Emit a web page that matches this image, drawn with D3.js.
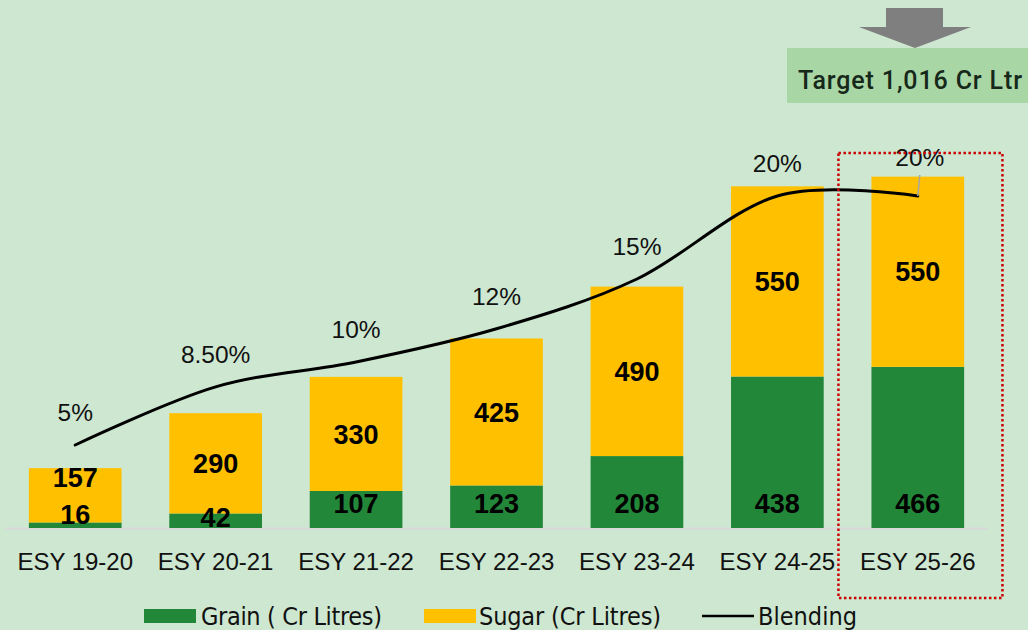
<!DOCTYPE html>
<html><head><meta charset="utf-8">
<script src="https://cdn.jsdelivr.net/npm/d3@7"></script>
<style>body{margin:0;background:#cde7d0} svg{display:block}</style>
</head><body><svg id="c" width="1028" height="630"></svg>
<script>
const categories = ["ESY 19-20","ESY 20-21","ESY 21-22","ESY 22-23","ESY 23-24","ESY 24-25","ESY 25-26"];
const grain = [16,42,107,123,208,438,466];
const sugar = [157,290,330,425,490,550,550];
const blending = [5,8.5,10,12,15,20,20];
const blendingLabels = ["5%","8.50%","10%","12%","15%","20%","20%"];
const seriesNames = ["Grain ( Cr Litres)","Sugar (Cr Litres)","Blending"];
const targetText = "Target 1,016 Cr Ltr";

(function(){
const W = 1028, H = 630;
const base = 528, plotTop = 113, left = 5, right = 988;
const cGrain = "#23873a", cSugar = "#ffc000", bg = "#cde7d0";
const svg = d3.select("#c");
svg.append("rect").attr("width", W).attr("height", H).attr("fill", bg);

const x = d3.scaleBand().domain(categories).range([left, right]).paddingInner(0.34).paddingOuter(0.17);
const y = d3.scaleLinear().domain([0, 1200]).range([base, plotTop]);
const yP = d3.scaleLinear().domain([0, 25]).range([base, plotTop]);

const rows = categories.map((c, i) => ({cat: c, grain: grain[i], sugar: sugar[i]}));
const stack = d3.stack().keys(["grain", "sugar"])(rows);
const colors = {grain: cGrain, sugar: cSugar};

// axis
const ax = svg.append("g").attr("transform", `translate(0,${base})`)
  .call(d3.axisBottom(x).tickSize(0).tickPadding(25));
ax.select(".domain").attr("stroke", "#d9d9d9").attr("stroke-width", 2);
ax.selectAll("text").attr("font-family", "Liberation Sans, Arial, sans-serif")
  .attr("font-size", 24).attr("fill", "#111");

// bars
stack.forEach(s => {
  svg.append("g").selectAll("rect").data(s).join("rect")
    .attr("x", d => x(d.data.cat)).attr("width", x.bandwidth())
    .attr("y", d => y(d[1])).attr("height", d => y(d[0]) - y(d[1]))
    .attr("fill", colors[s.key]);
});

// bar labels
const lblFont = "Liberation Sans, Arial, sans-serif";
stack.forEach(s => {
  svg.append("g").selectAll("text").data(s).join("text")
    .attr("x", d => x(d.data.cat) + x.bandwidth() / 2)
    .attr("y", d => {
      const h = y(d[0]) - y(d[1]);
      if (s.key === "grain") return h < 10 ? y(d[0]) - 14 : (h < 20 ? y(d[0]) - 11 : y(d[0]) - 25);
      return h < 60 ? y(d[1]) + 9 : (y(d[0]) + y(d[1])) / 2;
    })
    .attr("dy", "0.36em").attr("text-anchor", "middle")
    .attr("font-family", lblFont).attr("font-weight", "bold").attr("font-size", 27)
    .attr("fill", "#000").text(d => d.data[s.key]);
});

// blending line
const pts = categories.map((c, i) => [x(c) + x.bandwidth() / 2, yP(blending[i])]);
svg.append("path").attr("d", d3.line().curve(d3.curveCardinal.tension(0))(pts))
  .attr("fill", "none").attr("stroke", "#000").attr("stroke-width", 3).attr("stroke-linecap", "round");

const last = pts.length - 1;
const lblOff = i => (i === last ? 39 : 33);
svg.append("line").attr("x1", pts[last][0]).attr("y1", pts[last][1])
  .attr("x2", pts[last][0] + 2).attr("y2", pts[last][1] - 21)
  .attr("stroke", "#a6a6a6").attr("stroke-width", 1.5);

svg.append("g").selectAll("text").data(pts).join("text")
  .attr("x", (d, i) => d[0] + (i === last ? 2 : 0)).attr("y", (d, i) => d[1] - lblOff(i))
  .attr("dy", "0.36em").attr("text-anchor", "middle")
  .attr("font-family", lblFont).attr("font-size", 24.5).attr("fill", "#111")
  .text((d, i) => blendingLabels[i]);

// highlight box
const hx = x(categories[last]);
svg.append("rect").attr("x", hx - 33).attr("y", 153).attr("width", 164).attr("height", 445)
  .attr("fill", "none").attr("stroke", "#cc0000").attr("stroke-width", 2.5).attr("stroke-dasharray", "2.5,2.5");

// target box and arrow
svg.append("rect").attr("x", 787).attr("y", 48).attr("width", 241).attr("height", 55).attr("fill", "#a9d6a5");
svg.append("text").attr("x", 910).attr("y", 80).attr("dy", "0.36em").attr("text-anchor", "middle")
  .attr("font-family", "Roboto, Liberation Sans, sans-serif").attr("font-weight", 500).attr("font-size", 25)
  .attr("textLength", 224).attr("lengthAdjust", "spacing")
  .attr("fill", "#16281a").text(targetText);
svg.append("path").attr("d", "M886,8 L943,8 L943,27 L971,27 L915,48 L859,27 L886,27 Z").attr("fill", "#7f7f7f");

// legend
const lg = svg.append("g").attr("font-family", "Liberation Sans Narrow, DejaVu Sans Condensed, sans-serif")
  .attr("font-size", 25).attr("fill", "#111");
const legendItems = [
  {sx: 144, sw: 52, tx: 201, tl: 181, kind: "rect", color: cGrain},
  {sx: 424, sw: 52, tx: 479, tl: 182, kind: "rect", color: cSugar},
  {sx: 702, sw: 52, tx: 758, tl: 99, kind: "line", color: "#000"}
];
legendItems.forEach((it, i) => {
  if (it.kind === "rect") lg.append("rect").attr("x", it.sx).attr("y", 609).attr("width", it.sw).attr("height", 14).attr("fill", it.color);
  else lg.append("line").attr("x1", it.sx).attr("x2", it.sx + it.sw).attr("y1", 616).attr("y2", 616).attr("stroke", it.color).attr("stroke-width", 2.5);
  lg.append("text").attr("x", it.tx).attr("y", 625).attr("textLength", it.tl).attr("lengthAdjust", "spacing").text(seriesNames[i]);
});
})();
</script></body></html>
